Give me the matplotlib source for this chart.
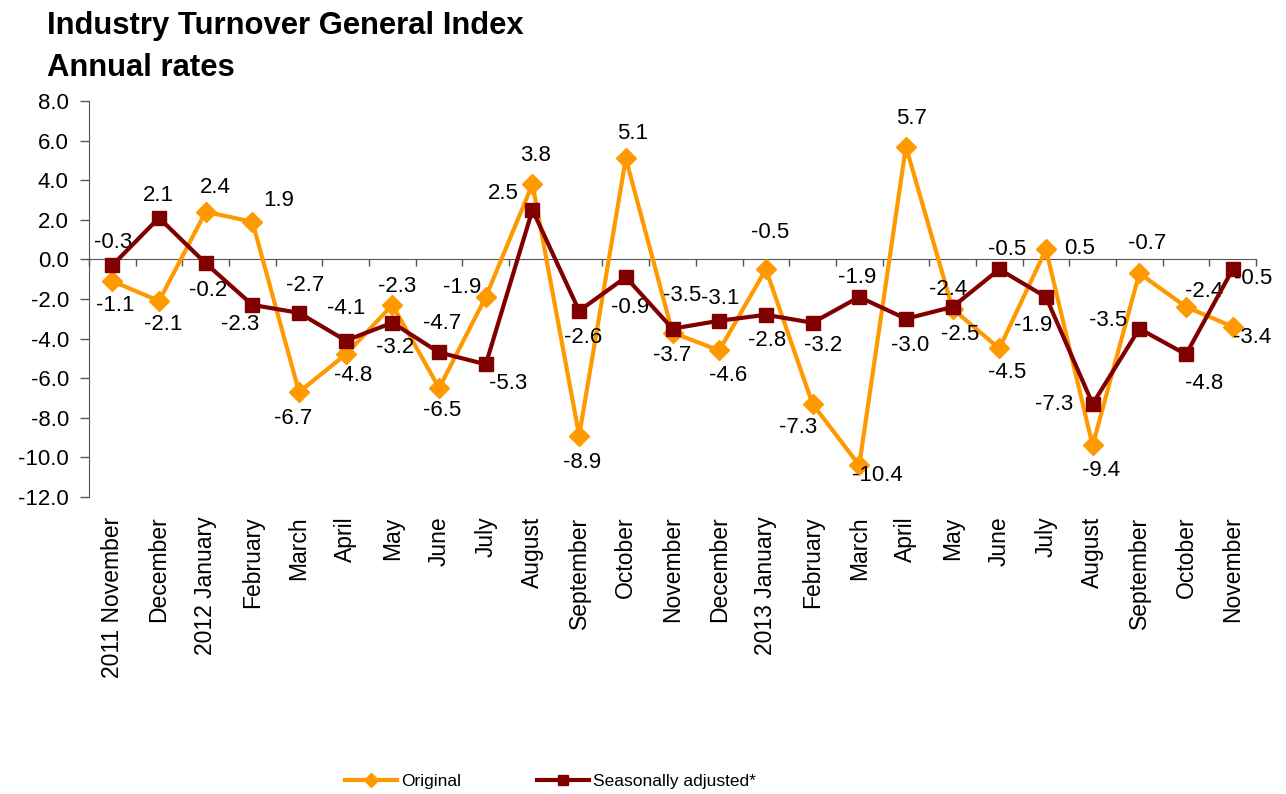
import matplotlib.pyplot as plt
from matplotlib.ticker import FormatStrFormatter

plt.rcParams['font.family'] = ['Liberation Sans', 'DejaVu Sans']

months = ['2011 November', 'December', '2012 January', 'February', 'March', 'April',
          'May', 'June', 'July', 'August', 'September', 'October', 'November',
          'December', '2013 January', 'February', 'March', 'April', 'May', 'June',
          'July', 'August', 'September', 'October', 'November']

original = [-1.1, -2.1, 2.4, 1.9, -6.7, -4.8, -2.3, -6.5, -1.9, 3.8, -8.9, 5.1, -3.7,
            -4.6, -0.5, -7.3, -10.4, 5.7, -2.5, -4.5, 0.5, -9.4, -0.7, -2.4, -3.4]
seas_adj = [-0.3, 2.1, -0.2, -2.3, -2.7, -4.1, -3.2, -4.7, -5.3, 2.5, -2.6, -0.9, -3.5,
            -3.1, -2.8, -3.2, -1.9, -3.0, -2.4, -0.5, -1.9, -7.3, -3.5, -4.8, -0.5]

# label offsets in pixels (dx, dy downwards), like the manual placement in the source
orig_off = [(3, 24), (4, 24), (10, -24), (26, -21), (-6, 26), (7, 21), (5, -18), (3, 22),
            (-24, -10), (3, -29), (3, 27), (7, -25), (0, 23), (9, 25), (4, -37), (-14, 24),
            (18, 10), (6, -28), (8, 26), (8, 24), (34, -1), (8, 25), (8, -30), (18, -15),
            (19, 11)]
sa_off = [(1, -23), (-1, -22), (2, 27), (-12, 20), (6, -27), (0, -32), (3, 25), (3, -29),
          (22, 19), (-29, -16), (4, 27), (4, 30), (10, -33), (1, -22), (1, 26), (11, 23),
          (-2, -20), (4, 27), (-4, -17), (8, -20), (-13, 28), (-39, 1), (-31, -8), (18, 29),
          (20, 9)]

orange = '#FF9900'
maroon = '#800000'
fs = 16

fig = plt.figure(figsize=(12.86, 7.94), dpi=100)
ax = fig.add_axes([0.0692, 0.3741, 0.9075, 0.4987])

x = list(range(len(months)))
ax.plot(x, original, color=orange, lw=3, marker='D', ms=10, label='Original', zorder=3)
ax.plot(x, seas_adj, color=maroon, lw=3, marker='s', ms=10.5,
        label='Seasonally adjusted*', zorder=4)

for i in x:
    dx, dy = orig_off[i]
    ax.annotate(f'{original[i]:.1f}', (i, original[i]), xytext=(dx * 0.72, -dy * 0.72),
                textcoords='offset points', ha='center', va='center', fontsize=fs)
    dx, dy = sa_off[i]
    ax.annotate(f'{seas_adj[i]:.1f}', (i, seas_adj[i]), xytext=(dx * 0.72, -dy * 0.72),
                textcoords='offset points', ha='center', va='center', fontsize=fs)

ax.set_xlim(-0.5, len(months) - 0.5)
ax.set_ylim(-12, 8)
ax.set_yticks(range(-12, 9, 2))
ax.yaxis.set_major_formatter(FormatStrFormatter('%.1f'))
ax.tick_params(axis='y', length=6.5, width=1, color='#555555', pad=8, labelsize=fs)

for s in ['top', 'right']:
    ax.spines[s].set_visible(False)
ax.spines['left'].set_color('#555555')
ax.spines['bottom'].set_position(('data', 0))
ax.spines['bottom'].set_color('#555555')
ax.set_xticks([i - 0.5 for i in x] + [len(months) - 0.5])
ax.set_xticklabels([])
ax.tick_params(axis='x', length=5, width=1, color='#555555')

sec = ax.secondary_xaxis('bottom')
sec.set_xticks(x)
sec.set_xticklabels(months, rotation=90, va='top', ha='center')
sec.tick_params(length=0, pad=14, labelsize=16.5)
sec.spines['bottom'].set_visible(False)

fig.text(0.0365, 0.957, 'Industry Turnover General Index', fontsize=22.3, fontweight='bold',
         va='baseline')
fig.text(0.0365, 0.904, 'Annual rates', fontsize=22.3, fontweight='bold', va='baseline')

leg = fig.legend(loc='center', bbox_to_anchor=(0.428, 0.016), ncol=2, frameon=False,
                 fontsize=12.5, handlelength=3.0, handletextpad=0.2, columnspacing=4.4)
for h in leg.legend_handles:
    h.set_markersize(7)

fig.savefig('out.png', dpi=100)
